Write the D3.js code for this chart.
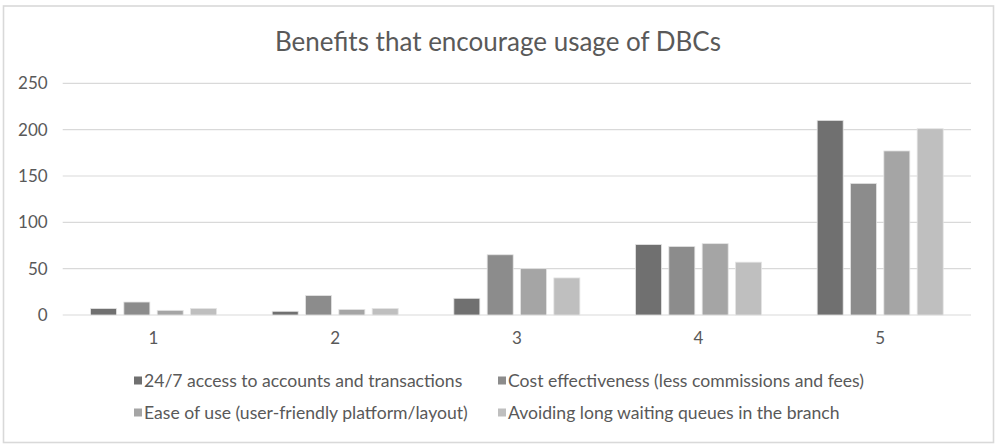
<!DOCTYPE html>
<html>
<head>
<meta charset="utf-8">
<script src="https://cdn.jsdelivr.net/npm/d3@7"></script>
<style>
  html, body { margin: 0; padding: 0; background: #fff; }
  svg { display: block; font-family: Lato, "Open Sans", sans-serif; }
</style>
</head>
<body>
<svg id="chart" width="996" height="444"></svg>
<script>
// Survey ratings (1–5) per benefit
const categories = ["1", "2", "3", "4", "5"];
const seriesNames = [
  "24/7 access to accounts and transactions",
  "Cost effectiveness (less commissions and fees)",
  "Ease of use (user-friendly platform/layout)",
  "Avoiding long waiting queues in the branch"
];
const access247 = [7, 4, 18, 76, 210];
const costEffectiveness = [14, 21, 65, 74, 142];
const easeOfUse = [5, 6, 50, 77, 177];
const avoidingQueues = [7, 7, 40, 57, 201];
const yTicks = [0, 50, 100, 150, 200, 250];
const chartTitle = "Benefits that encourage usage of DBCs";

const seriesValues = [access247, costEffectiveness, easeOfUse, avoidingQueues];
const colors = ["#707070", "#8c8c8c", "#a5a5a5", "#bfbfbf"];

const svg = d3.select("#chart");

// outer frame
svg.append("rect")
  .attr("x", 3.5).attr("y", 6)
  .attr("width", 990).attr("height", 436.5)
  .attr("fill", "#fff").attr("stroke", "#d9d9d9").attr("stroke-width", 1.6);

// title
svg.append("text")
  .attr("x", 498).attr("y", 51)
  .attr("text-anchor", "middle")
  .attr("fill", "#595959")
  .style("font-size", "26px")
  .text(chartTitle);

const plotLeft = 62.7, plotRight = 971, plotTop = 83.3, plotBottom = 315;

const y = d3.scaleLinear().domain([0, 250]).range([plotBottom, plotTop]);
const x0 = d3.scaleBand().domain(categories).range([plotLeft, plotRight])
  .paddingInner(0.266).paddingOuter(0.133);
const x1 = d3.scaleBand().domain(d3.range(seriesNames.length)).range([0, x0.bandwidth()])
  .paddingInner(0.22).paddingOuter(0.11);

// gridlines
svg.append("g")
  .selectAll("line")
  .data(yTicks)
  .join("line")
  .attr("x1", plotLeft).attr("x2", plotRight)
  .attr("y1", d => y(d)).attr("y2", d => y(d))
  .attr("stroke", "#d9d9d9").attr("stroke-width", 1.2);

// y axis labels
const yAxis = d3.axisLeft(y).tickValues(yTicks).tickSize(0).tickPadding(0);
svg.append("g")
  .attr("transform", `translate(${plotLeft - 15},0)`)
  .call(yAxis)
  .call(g => g.select(".domain").remove())
  .call(g => g.selectAll("text")
    .attr("fill", "#595959")
    .style("font-size", "17px")
    .style("font-family", "Lato, sans-serif"));

// bars
const groups = svg.append("g")
  .selectAll("g")
  .data(categories)
  .join("g")
  .attr("transform", d => `translate(${x0(d)},0)`);

groups.selectAll("rect")
  .data((d, i) => seriesValues.map((vals, s) => ({ s, v: vals[i] })))
  .join("rect")
  .attr("x", d => x1(d.s))
  .attr("width", x1.bandwidth())
  .attr("y", d => y(d.v))
  .attr("height", d => y(0) - y(d.v))
  .attr("fill", d => colors[d.s])
  .attr("stroke", "#e4e4e4")
  .attr("stroke-width", 0.8);

// x axis labels
const xAxis = d3.axisBottom(x0).tickSize(0).tickPadding(0);
svg.append("g")
  .attr("transform", `translate(0,${plotBottom + 17})`)
  .call(xAxis)
  .call(g => g.select(".domain").remove())
  .call(g => g.selectAll("text")
    .attr("fill", "#595959")
    .style("font-size", "17px")
    .style("font-family", "Lato, sans-serif"));

// legend
const legendPos = [
  { x: 134, y: 381 },
  { x: 498, y: 381 },
  { x: 134, y: 413 },
  { x: 498, y: 413 }
];
const legend = svg.append("g")
  .selectAll("g")
  .data(seriesNames)
  .join("g")
  .attr("transform", (d, i) => `translate(${legendPos[i].x},${legendPos[i].y})`);
legend.append("rect")
  .attr("x", 0).attr("y", -4.5)
  .attr("width", 8).attr("height", 8)
  .attr("fill", (d, i) => colors[i]);
legend.append("text")
  .attr("x", 10).attr("y", 0)
  .attr("dy", "0.35em")
  .attr("fill", "#595959")
  .style("font-size", "17.6px")
  .text(d => d);
</script>
</body>
</html>
